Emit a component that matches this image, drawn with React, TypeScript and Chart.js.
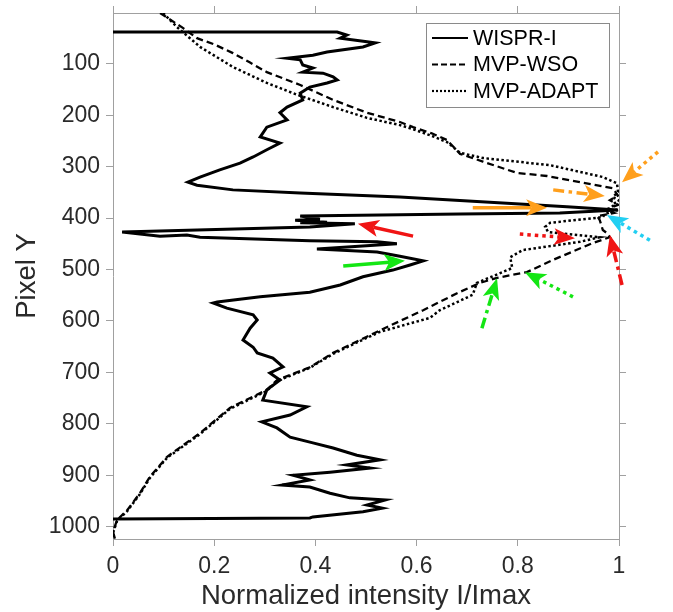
import React, { useEffect, useRef } from 'react';
import { Chart, registerables } from 'chart.js';

Chart.register(...registerables);

// ---------- data ----------
const seriesNames = ['WISPR-I', 'MVP-WSO', 'MVP-ADAPT'];

const wisprX = [0, 0.443, 0.462, 0.449, 0.502, 0.518, 0.494, 0.423, 0.395, 0.344, 0.370, 0.375, 0.395, 0.375, 0.415, 0.435, 0.443, 0.423, 0.389, 0.370, 0.375, 0.344, 0.330, 0.344, 0.304, 0.291, 0.330, 0.304, 0.277, 0.251, 0.211, 0.172, 0.148, 0.166, 0.237, 0.370, 0.567, 0.897, 0.998, 0.883, 0.686, 0.370, 0.409, 0.360, 0.423, 0.370, 0.478, 0.389, 0.018, 0.093, 0.146, 0.172, 0.389, 0.522, 0.561, 0.403, 0.522, 0.567, 0.613, 0.587, 0.553, 0.494, 0.449, 0.389, 0.291, 0.206, 0.198, 0.225, 0.277, 0.285, 0.271, 0.257, 0.277, 0.285, 0.316, 0.336, 0.310, 0.330, 0.304, 0.296, 0.383, 0.350, 0.294, 0.324, 0.350, 0.395, 0.435, 0.482, 0.528, 0.462, 0.508, 0.429, 0.356, 0.389, 0.334, 0.389, 0.429, 0.468, 0.538, 0.502, 0.532, 0.494, 0.395, 0.389, 0];
const wisprY = [38, 38, 44, 50, 57, 59, 67, 77, 83, 89, 92, 102, 108, 116, 118, 125, 131, 137, 145, 157, 170, 184, 195, 209, 223, 242, 254, 267, 281, 293, 306, 320, 330, 336, 345, 351, 359, 378, 384, 390, 392, 396, 402, 404, 408, 409, 411, 417, 427, 435, 433, 437, 444, 446, 450, 460, 466, 474, 483, 491, 501, 514, 530, 544, 553, 563, 565, 575, 588, 598, 614, 637, 651, 662, 672, 689, 701, 715, 734, 754, 767, 783, 796, 808, 826, 837, 847, 861, 870, 880, 886, 894, 900, 909, 919, 923, 935, 944, 948, 958, 964, 971, 981, 983, 985];

const wsoX = [0.093, 0.138, 0.166, 0.200, 0.237, 0.270, 0.304, 0.370, 0.435, 0.502, 0.567, 0.593, 0.630, 0.660, 0.686, 0.731, 0.798, 0.858, 0.929, 0.988, 0.998, 0.982, 0.998, 0.972, 0.990, 0.957, 0.962, 0.968, 0.976, 0.982, 0.949, 0.870, 0.818, 0.759, 0.725, 0.680, 0.613, 0.528, 0.488, 0.435, 0.389, 0.324, 0.304, 0.231, 0.172, 0.107, 0.073, 0.053, 0.028, 0.008, 0.000, 0.004];
const wsoY = [1, 30, 50, 62, 79, 97, 116, 141, 170, 195, 213, 223, 235, 248, 275, 290, 312, 318, 331, 342, 356, 365, 374, 384, 390, 396, 404, 423, 429, 437, 448, 481, 505, 516, 526, 546, 579, 618, 637, 662, 690, 715, 734, 769, 818, 864, 903, 935, 968, 987, 1010, 1024];

const adaptX = [0.099, 0.126, 0.152, 0.172, 0.237, 0.304, 0.364, 0.435, 0.502, 0.567, 0.593, 0.630, 0.660, 0.686, 0.731, 0.864, 0.968, 0.996, 0.998, 0.988, 1.0, 0.986, 0.995, 0.972, 0.968, 0.864, 0.854, 0.860, 0.962, 0.923, 0.810, 0.785, 0.789, 0.719, 0.711, 0.646, 0.626, 0.528, 0.488, 0.435, 0.389, 0.324, 0.304, 0.231, 0.172, 0.107, 0.073, 0.053, 0.028, 0.008, 0, 0.002];
const adaptY = [1, 28, 50, 67, 106, 137, 160, 184, 205, 219, 227, 240, 252, 273, 283, 297, 320, 332, 349, 359, 366, 374, 385, 392, 398, 409, 417, 427, 437, 446, 462, 476, 497, 526, 549, 579, 594, 621, 639, 664, 691, 717, 736, 771, 820, 866, 905, 937, 970, 989, 1012, 1024];

const xTicks = [0, 0.2, 0.4, 0.6, 0.8, 1];
const yTicks = [100, 200, 300, 400, 500, 600, 700, 800, 900, 1000];

// annotation arrows (data coordinates)
const arrowTailX = [0.593, 0.455, 0.711, 0.870, 1.077, 1.061, 0.804, 1.006, 0.909, 0.729];
const arrowTailY = [435, 493, 380, 345, 271, 443, 431, 530, 553, 614];
const arrowHeadX = [0.484, 0.577, 0.858, 0.972, 1.006, 0.976, 0.913, 0.982, 0.814, 0.759];
const arrowHeadY = [411, 483, 380, 357, 330, 394, 439, 433, 505, 517];
const arrowColor = ['#f01414', '#14e614', '#ff9f1c', '#ff9f1c', '#ff9f1c', '#22cff2', '#f01414', '#f01414', '#14e614', '#14e614'];
const arrowStyle = ['solid', 'solid', 'solid', 'dashdot', 'dotted', 'dotted', 'dotted', 'dashdot', 'dotted', 'dashdot'];

// ---------- styling ----------
const FONT = "'Liberation Sans', Arial, Helvetica, sans-serif";
const AXIS_GREY = '#a0a0a0';
const TEXT = '#2a2a2a';
const lineDashes: number[][] = [[], [7, 4], [2.5, 2.5]];
const lineWidths = [3, 2.3, 2.5];

const dashFor = (s: string) => (s === 'dotted' ? [3.5, 4] : s === 'dashdot' ? [11, 4.5, 3.5, 4.5] : []);

const overlayPlugin = {
  id: 'overlay',
  afterDraw(chart: any) {
    const { ctx, chartArea, scales } = chart;
    const xs = scales.x;
    const ys = scales.y;

    // arrows
    for (let i = 0; i < arrowTailX.length; i++) {
      const x0 = xs.getPixelForValue(arrowTailX[i]);
      const y0 = ys.getPixelForValue(arrowTailY[i]);
      const x1 = xs.getPixelForValue(arrowHeadX[i]);
      const y1 = ys.getPixelForValue(arrowHeadY[i]);
      const ang = Math.atan2(y1 - y0, x1 - x0);
      const hl = 21;
      const hw = 8.5;
      const bx = x1 - Math.cos(ang) * hl * 0.75;
      const by = y1 - Math.sin(ang) * hl * 0.75;
      ctx.save();
      ctx.strokeStyle = arrowColor[i];
      ctx.fillStyle = arrowColor[i];
      ctx.lineWidth = 3.5;
      ctx.lineCap = 'butt';
      ctx.setLineDash(dashFor(arrowStyle[i]));
      ctx.beginPath();
      ctx.moveTo(x0, y0);
      ctx.lineTo(bx, by);
      ctx.stroke();
      ctx.setLineDash([]);
      const wx = x1 - Math.cos(ang) * hl;
      const wy = y1 - Math.sin(ang) * hl;
      const px = -Math.sin(ang);
      const py = Math.cos(ang);
      ctx.beginPath();
      ctx.moveTo(x1, y1);
      ctx.lineTo(wx + px * hw, wy + py * hw);
      ctx.lineTo(bx, by);
      ctx.lineTo(wx - px * hw, wy - py * hw);
      ctx.closePath();
      ctx.fill();
      ctx.restore();
    }

    // legend
    const bx0 = chartArea.right - 193;
    const by0 = chartArea.top + 10;
    const bw = 183;
    const bh = 84;
    ctx.save();
    ctx.fillStyle = '#ffffff';
    ctx.fillRect(bx0, by0, bw, bh);
    ctx.strokeStyle = '#8a8a8a';
    ctx.lineWidth = 1;
    ctx.strokeRect(bx0 + 0.5, by0 + 0.5, bw, bh);
    ctx.font = `21.5px ${FONT}`;
    ctx.textBaseline = 'middle';
    ctx.textAlign = 'left';
    for (let i = 0; i < seriesNames.length; i++) {
      const cy = by0 + 15 + i * 26.5;
      ctx.strokeStyle = '#000';
      ctx.lineWidth = Math.min(lineWidths[i], 2.2);
      ctx.setLineDash(i === 1 ? [6, 3] : i === 2 ? [2, 2] : []);
      ctx.beginPath();
      ctx.moveTo(bx0 + 6, cy);
      ctx.lineTo(bx0 + 42, cy);
      ctx.stroke();
      ctx.setLineDash([]);
      ctx.fillStyle = '#000';
      ctx.fillText(seriesNames[i], bx0 + 47, cy + 1);
    }
    ctx.restore();
  },
};

function makePoints(xv: number[], yv: number[]) {
  return xv.map((v, i) => ({ x: v, y: yv[i] }));
}

const gridCfg = {
  drawOnChartArea: false,
  drawTicks: true,
  tickLength: 7,
  color: AXIS_GREY,
  tickColor: AXIS_GREY,
  lineWidth: 1,
};
const borderCfg = { display: true, color: AXIS_GREY, width: 1 };

const fixSize = (prop: 'width' | 'height', size: number) => (s: any) => {
  s[prop] = size;
  s.paddingTop = 0;
  s.paddingBottom = 0;
  s.paddingLeft = 0;
  s.paddingRight = 0;
};

export default function App() {
  const ref = useRef<HTMLCanvasElement | null>(null);

  useEffect(() => {
    if (!ref.current) return;
    const seriesX = [wisprX, wsoX, adaptX];
    const seriesY = [wisprY, wsoY, adaptY];
    const chart = new Chart(ref.current, {
      type: 'scatter',
      data: {
        datasets: seriesNames.map((name, i) => ({
          label: name,
          data: makePoints(seriesX[i], seriesY[i]),
          showLine: true,
          borderColor: '#000000',
          backgroundColor: '#000000',
          borderWidth: lineWidths[i],
          borderDash: lineDashes[i],
          pointRadius: 0,
          tension: 0,
          xAxisID: 'x',
          yAxisID: 'y',
        })),
      },
      options: {
        animation: false,
        responsive: false,
        maintainAspectRatio: false,
        layout: { padding: 0 },
        plugins: {
          legend: { display: false },
          tooltip: { enabled: false },
        },
        scales: {
          x: {
            type: 'linear',
            position: 'bottom',
            min: 0,
            max: 1,
            afterBuildTicks: (s: any) => {
              s.ticks = xTicks.map((v) => ({ value: v }));
            },
            afterFit: fixSize('height', 73),
            ticks: {
              color: TEXT,
              font: { family: FONT, size: 23 },
              padding: 7,
              maxRotation: 0,
              autoSkip: false,
              callback: (v: any) => String(Math.round(Number(v) * 10) / 10),
            },
            grid: gridCfg,
            border: borderCfg,
            title: {
              display: true,
              text: 'Normalized intensity I/Imax',
              color: TEXT,
              font: { family: FONT, size: 27.5, lineHeight: 1.1 },
              padding: { top: 0, bottom: 0 },
            },
          },
          x2: {
            type: 'linear',
            position: 'top',
            min: 0,
            max: 1,
            afterBuildTicks: (s: any) => {
              s.ticks = xTicks.map((v) => ({ value: v }));
            },
            afterFit: fixSize('height', 13),
            ticks: { display: false },
            grid: gridCfg,
            border: borderCfg,
          },
          y: {
            type: 'linear',
            position: 'left',
            reverse: true,
            min: 1,
            max: 1024,
            afterBuildTicks: (s: any) => {
              s.ticks = yTicks.map((v) => ({ value: v }));
            },
            afterFit: fixSize('width', 113),
            ticks: {
              color: TEXT,
              font: { family: FONT, size: 23 },
              padding: 6,
              autoSkip: false,
              callback: (v: any) => String(v),
            },
            grid: gridCfg,
            border: borderCfg,
            title: {
              display: true,
              text: 'Pixel Y',
              color: TEXT,
              font: { family: FONT, size: 27.5, lineHeight: 1.1 },
              padding: { top: 12, bottom: 0 },
            },
          },
          y2: {
            type: 'linear',
            position: 'right',
            reverse: true,
            min: 1,
            max: 1024,
            afterBuildTicks: (s: any) => {
              s.ticks = yTicks.map((v) => ({ value: v }));
            },
            afterFit: fixSize('width', 54),
            ticks: { display: false },
            grid: gridCfg,
            border: borderCfg,
          },
        },
      },
      plugins: [overlayPlugin],
    } as any);
    return () => chart.destroy();
  }, []);

  return (
    <div style={{ position: 'fixed', left: 0, top: 0, width: 673, height: 612, background: '#fff' }}>
      <canvas ref={ref} width={673} height={612} style={{ display: 'block' }} />
    </div>
  );
}
